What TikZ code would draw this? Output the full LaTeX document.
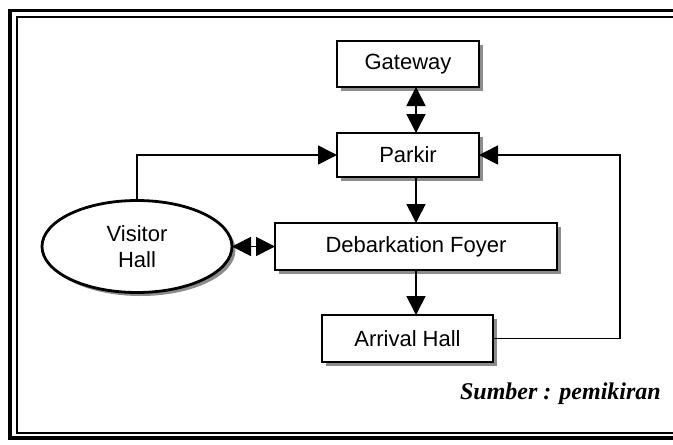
\documentclass[tikz,border=0pt]{standalone}
\usepackage{fontspec}
\newfontfamily\arialfont{Liberation Sans}
\newfontfamily\timesfont{Liberation Serif}
\usetikzlibrary{positioning,arrows.meta,shapes.geometric,shadows,calc}
\definecolor{shade}{gray}{0.55}
\tikzset{
  box/.style={draw, fill=white, line width=2.8pt, outer sep=0pt, inner sep=0pt,
              font=\arialfont\fontsize{22}{26}\selectfont,
              drop shadow={shadow xshift=3.5pt, shadow yshift=-3.5pt, fill=shade, opacity=1}},
  hall/.style={box, ellipse, align=center},
  flow/.style={-{Triangle[length=19pt, width=19pt]}, line width=1.7pt},
  both/.style={flow, {Triangle[length=19pt, width=19pt]}-{Triangle[length=19pt, width=19pt]}},
  frame/.style={line width=3.5pt},
  source/.style={font=\timesfont\bfseries\itshape\fontsize{24}{28}\selectfont, inner sep=0pt},
}

\begin{document}
\begin{tikzpicture}[x=1pt, y=-1pt, node distance=46pt]
\useasboundingbox (0,0) rectangle (673,445);

% ---- frame, cut off on the right ------------------------------------------
\draw[frame] (673,10.5) -- (10,10.5) -- (10,438) -- (673,438);
\draw[line width=2pt] (673,16.5) -- (17,16.5) -- (17,433) -- (673,433);

% ---- the chain of spaces ---------------------------------------------------
\node[box, minimum width=142pt, minimum height=46pt] (gate) at (408,64) {Gateway};
\node[box, minimum width=142pt, minimum height=44pt, below=of gate] (park) {Parkir};
\node[box, minimum width=282pt, minimum height=47pt, below=of park, xshift=8pt] (deb)
  {Debarkation Foyer};
\node[box, minimum width=171pt, minimum height=47pt, below=45pt of deb, xshift=-8.5pt] (arr)
  {Arrival Hall};
\node[hall, minimum width=190pt, minimum height=92pt, left=43pt of deb] (vis) {Visitor\\Hall};

\node[source, anchor=base east] (src) at (661,399) {Sumber : pemikiran};

% ---- arrows ----------------------------------------------------------------
\draw[both] (gate.south -| deb) -- (park.north -| deb);
\draw[flow] (park.south -| deb) -- (deb.north);
\draw[flow] (deb.south) -- (deb.south |- arr.north);
\draw[both] (vis.east) -- (deb.west);
\draw[flow] (vis.north) |- (park.west);
% back from the arrival hall to the parking, round the right side
\coordinate (rbus) at ($(arr.east)+(127pt,0)$);
\draw[flow] (arr.east) -- (rbus) |- (park.east);
\end{tikzpicture}
\end{document}
